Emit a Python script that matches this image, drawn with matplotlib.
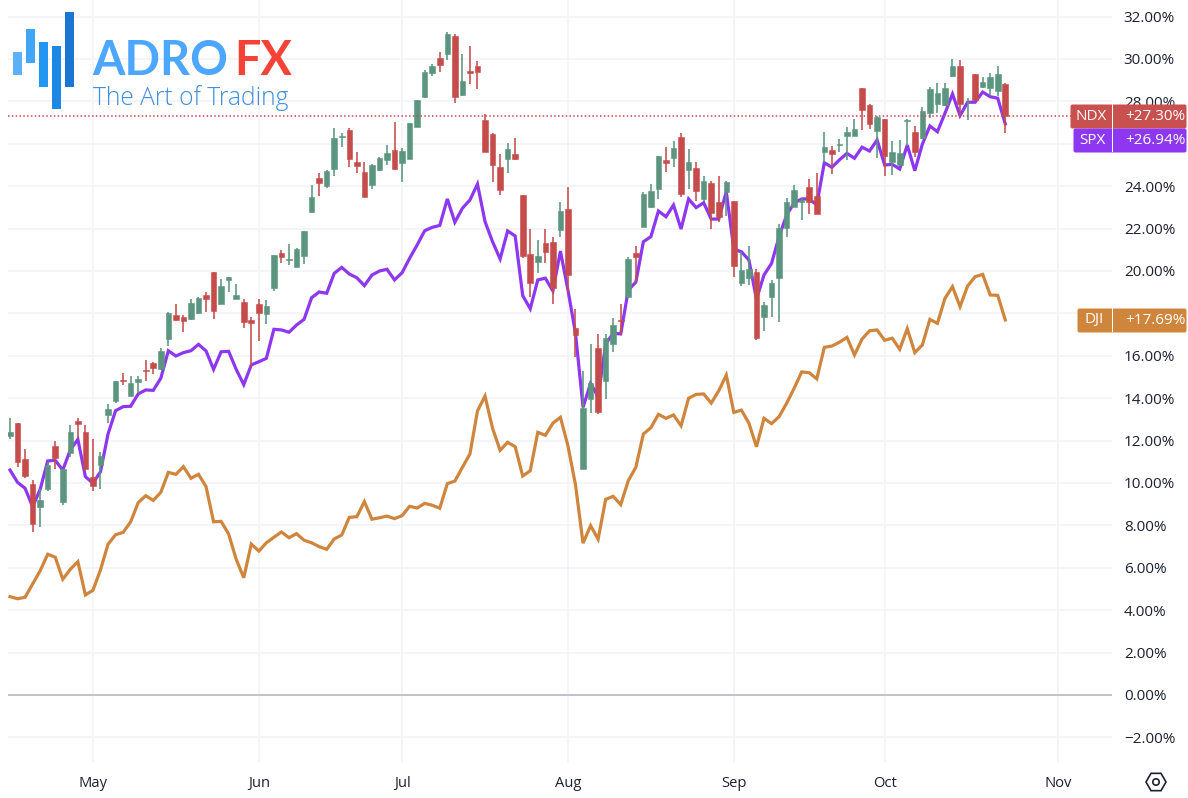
import numpy as np
import matplotlib
matplotlib.use("Agg")
import matplotlib.pyplot as plt
from matplotlib.patches import Rectangle, RegularPolygon, Circle, FancyBboxPatch

W, H = 1188, 798

ndx_open = [12.22,12.84,11.13,9.95,8.87,9.72,11.75,9.12,11.43,12.94,12.41,10.28,10.85,13.21,13.85,14.86,14.10,14.78,15.33,15.66,
15.36,16.79,17.92,17.84,17.74,18.00,18.87,19.95,18.44,19.58,18.67,18.52,17.69,18.43,17.97,19.18,20.86,20.52,20.19,20.72,
22.78,24.37,24.02,24.81,26.32,26.65,25.13,24.67,24.06,24.76,25.24,25.71,25.11,25.27,26.81,28.22,29.33,30.06,30.25,31.08,
28.29,29.42,29.67,27.12,26.46,24.89,25.30,25.52,23.58,20.80,20.44,21.32,21.37,21.95,22.92,17.33,10.66,13.95,16.35,14.83,
16.57,17.69,18.77,20.84,22.09,23.00,23.85,25.24,25.34,26.31,24.76,24.86,23.38,24.14,23.24,23.73,23.30,19.45,19.66,19.94,
17.84,18.77,19.68,22.04,23.03,23.26,23.96,23.55,25.60,25.69,25.93,26.37,26.37,28.62,27.83,26.62,27.17,25.13,25.00,27.09,
26.57,26.26,27.47,27.88,27.83,29.20,29.67,27.96,29.29,28.68,28.65,28.49,28.82]
ndx_close = [12.41,10.98,10.34,8.08,9.20,10.85,11.18,10.66,12.41,12.80,10.65,9.86,11.29,13.49,14.80,14.80,14.73,14.92,15.28,15.42,
16.24,18.00,17.69,17.66,18.50,18.73,18.68,18.13,19.31,19.70,18.88,17.61,17.56,18.00,18.35,20.75,20.65,20.57,21.04,21.89,
23.49,24.17,24.73,26.27,26.37,25.30,24.97,23.51,25.00,25.33,25.55,24.81,25.67,26.97,28.07,29.39,29.67,29.72,31.17,28.21,
28.98,29.33,29.40,25.60,25.01,23.84,25.74,25.28,20.71,19.45,20.71,20.91,19.18,22.83,19.83,16.98,13.52,14.70,13.36,16.83,
17.45,17.64,20.57,20.66,23.63,23.77,25.42,25.11,25.79,23.63,25.13,23.79,24.25,22.75,22.56,24.20,20.25,20.05,20.09,16.85,
18.40,19.43,22.04,23.24,23.81,23.35,23.24,22.69,25.86,25.53,25.98,26.54,26.68,27.59,26.92,27.26,25.44,25.60,25.55,27.12,
25.60,27.55,28.57,28.41,28.62,29.67,27.88,27.99,28.07,28.93,29.17,29.31,27.30]
ndx_high = [13.07,12.84,11.60,10.14,9.72,11.00,11.98,10.66,12.74,13.07,12.74,12.09,11.48,13.73,14.81,15.17,15.05,15.05,15.80,15.69,
16.35,18.05,18.44,17.92,18.67,18.79,19.00,19.95,19.62,19.70,19.39,18.68,17.82,18.68,18.63,20.75,20.99,21.27,21.07,21.89,
24.06,24.61,24.76,26.73,26.52,26.76,25.60,25.13,25.03,25.36,25.94,27.01,25.79,26.97,28.07,29.48,29.76,30.32,31.26,31.18,
30.24,30.61,29.91,27.39,26.52,25.52,26.02,26.27,23.58,21.98,21.46,21.97,21.59,23.24,23.96,18.21,15.28,16.56,17.03,17.01,
17.78,18.43,20.65,21.19,23.73,24.10,25.42,25.86,26.13,26.50,25.75,25.14,24.48,24.25,24.48,24.25,23.30,20.91,21.18,20.09,
18.55,19.58,22.20,23.43,24.06,23.44,24.33,24.61,26.57,25.90,26.21,26.78,27.16,28.62,27.86,27.31,27.17,26.13,26.18,27.15,
26.84,27.75,28.69,28.88,28.88,29.99,29.95,28.15,29.29,29.17,29.33,29.67,28.88]
ndx_low = [12.08,10.77,10.25,7.70,7.94,9.64,10.66,8.98,11.24,12.12,10.61,9.64,9.72,12.84,13.79,14.61,14.10,14.26,14.83,15.13,
15.33,16.46,17.66,17.14,17.69,17.96,18.08,17.74,18.44,19.00,18.67,17.31,15.46,16.68,17.50,19.07,20.39,20.28,20.19,20.33,
22.75,23.54,23.93,24.50,25.86,24.92,24.64,23.51,23.87,24.72,25.00,24.78,24.21,25.27,26.81,28.15,29.20,29.39,29.95,27.94,
28.25,28.82,28.59,25.60,24.21,23.58,24.61,25.25,20.59,18.79,19.92,20.39,18.44,21.62,18.95,15.93,10.66,13.32,13.25,13.98,
16.18,16.98,18.77,19.42,22.06,22.96,23.38,24.69,24.92,23.51,23.87,23.30,23.30,21.97,22.33,22.59,19.73,19.31,19.34,16.76,
17.18,17.84,17.58,21.62,23.00,22.41,22.69,22.67,25.08,24.58,25.63,25.24,26.37,26.65,26.68,25.33,24.48,24.53,25.00,25.90,
25.36,26.21,27.20,27.47,27.80,29.17,27.31,27.12,28.07,28.62,28.30,28.25,26.50]

spx = [10.61,10.03,9.75,8.88,9.70,11.04,11.07,10.61,11.56,12.06,10.30,9.99,10.53,12.31,13.41,13.60,13.62,14.20,14.39,14.37,
14.94,16.24,15.99,16.15,16.24,16.54,16.23,15.36,16.19,16.21,15.36,14.64,15.57,15.72,15.88,17.25,17.22,17.11,17.45,17.72,
18.74,19.01,18.95,19.89,20.17,19.86,19.68,19.31,19.81,20.00,20.08,19.58,19.92,20.60,21.23,21.90,22.06,22.15,23.40,22.30,
22.96,23.35,24.10,22.33,21.38,20.57,21.89,21.65,18.84,18.22,19.58,19.66,19.06,20.94,19.10,17.06,13.57,14.70,14.07,16.56,
17.06,17.03,19.10,19.47,21.38,21.62,22.83,22.56,23.11,21.98,23.40,22.99,23.22,22.45,22.45,23.74,21.02,20.91,20.52,18.67,
19.81,20.36,21.62,22.64,23.21,23.40,23.40,23.11,25.11,24.89,25.24,25.55,25.32,25.84,25.66,26.18,25.00,25.03,24.81,25.94,
24.73,25.98,26.84,26.57,27.44,28.35,27.33,27.96,27.96,28.44,28.22,28.15,26.94]

dji = [4.64,4.54,4.61,5.24,5.86,6.64,6.50,5.46,5.93,6.29,4.72,4.94,5.90,7.11,7.56,7.67,8.17,9.07,9.40,9.18,
9.56,10.50,10.41,10.77,10.22,10.41,9.83,8.17,8.19,7.59,6.40,5.53,7.12,6.79,7.18,7.44,7.69,7.42,7.61,7.30,
7.18,7.00,6.87,7.36,7.55,8.38,8.41,9.12,8.29,8.36,8.44,8.32,8.46,8.90,8.82,9.04,8.95,8.81,9.97,10.09,
10.74,11.37,13.40,14.10,12.58,11.54,11.92,11.71,10.33,10.58,12.39,12.25,12.82,13.10,11.75,9.91,7.16,7.99,7.35,9.23,
9.37,8.98,10.11,10.74,12.31,12.61,13.24,13.05,13.21,12.70,14.00,14.18,14.20,13.77,14.35,15.09,13.33,13.44,12.82,11.71,
13.05,12.80,13.13,13.76,14.47,15.24,15.20,14.91,16.40,16.46,16.64,16.87,16.04,16.79,17.18,17.22,16.73,16.83,16.31,17.28,
16.15,16.51,17.72,17.53,18.71,19.26,18.32,19.29,19.73,19.84,18.87,18.85,17.69]

month_pos = [11, 33, 52, 74, 96, 116, 139]
month_labels = ["May", "Jun", "Jul", "Aug", "Sep", "Oct", "Nov"]
y_ticks = list(range(-2, 33, 2))
tags = [("NDX", "+27.30%", 1070, 116, "#c8504f"),
        ("SPX", "+26.94%", 1073, 140, "#8e37f0"),
        ("DJI", "+17.69%", 1077, 320, "#d0853d")]

UP, DOWN = "#5b9580", "#c64c4c"
GRID = "#f1f3f7"
TXT = "#1c2030"
FONT = "Open Sans"

fig = plt.figure(figsize=(W/100, H/100), dpi=100, facecolor="white")
PIX = matplotlib.transforms.Affine2D().scale(1, -1).translate(0, H)  # reference pixel coords

x0, x1, ytop, ybot = 8, 1112, 0, 762
ax = fig.add_axes([x0/W, 1-ybot/H, (x1-x0)/W, (ybot-ytop)/H])
SP = 7.54
ax.set_xlim((x0-10)/SP, (x1-10)/SP)
ax.set_ylim((695-ybot)/21.2, (695-ytop)/21.2)
for s in ax.spines.values():
    s.set_visible(False)
ax.set_xticks(month_pos, month_labels)
ax.set_yticks(y_ticks, [("\u2212" if v < 0 else "") + f"{abs(v):.2f}%" for v in y_ticks])
ax.yaxis.tick_right()
ax.tick_params(axis="both", length=0, labelcolor=TXT)
ax.tick_params(axis="y", pad=8.5, labelsize=11)
ax.tick_params(axis="x", pad=10, labelsize=10.6)
for t in ax.get_xticklabels() + ax.get_yticklabels():
    t.set_fontfamily(FONT)
ax.grid(True, color=GRID, lw=1.1, zorder=0)
ax.set_axisbelow(True)
ax.axhline(0, color="#b2b5be", lw=1.1, zorder=1)

xs = np.arange(len(ndx_open))
ax.plot(xs, dji, color="#d0853d", lw=2.3, zorder=3, solid_joinstyle="miter")
ax.plot(xs, spx, color="#8e37f0", lw=2.3, zorder=3, solid_joinstyle="miter")
o, c, h, l = map(np.array, (ndx_open, ndx_close, ndx_high, ndx_low))
cols = [UP if cc >= oo else DOWN for oo, cc in zip(o, c)]
ax.vlines(xs, l, h, colors=cols, lw=1.15, zorder=4)
ax.bar(xs, np.abs(c-o), bottom=np.minimum(o, c), width=0.74, color=cols,
       edgecolor=cols, lw=0.4, zorder=5)
ax.axhline(ndx_close[-1], color="#d0434f", lw=1.1, ls=(0, (1, 1.5)), zorder=6)

# price tags
for name, val, left, cy, col in tags:
    fig.add_artist(FancyBboxPatch((left+2, cy-10), 1186-left-3, 21, boxstyle="round,pad=1.5,rounding_size=2",
                                  fc=col, ec="none", transform=PIX, zorder=10))
    fig.add_artist(Rectangle((1112, cy-12), 1.3, 24, fc="white", ec="none", transform=PIX, zorder=11))
    fig.text(0, 0, name, color="white", fontsize=11, family=FONT, ha="center", va="center",
             transform=PIX + matplotlib.transforms.Affine2D().translate((left+1112)/2, -cy), zorder=12)
    fig.text(0, 0, val, color="white", fontsize=11, family=FONT, ha="center", va="center",
             transform=PIX + matplotlib.transforms.Affine2D().translate(1155, -cy), zorder=12)

# settings glyph
fig.add_artist(RegularPolygon((1156, 782), 6, radius=10, orientation=np.pi/6, fc="none", ec=TXT, lw=1.2, transform=PIX, zorder=12))
fig.add_artist(Circle((1156, 782), 3.2, fc="none", ec=TXT, lw=1.2, transform=PIX, zorder=12))

# logo
logo_bars = [(13, 51.7, 75, "#5cb1f8"), (26, 29, 63.3, "#42a5f5"), (39, 41.7, 86.7, "#2196f3"),
             (52, 46.3, 109, "#1e88e5"), (65, 12, 86.7, "#1976d2")]
for bx, by0, by1, bc in logo_bars:
    fig.add_artist(Rectangle((bx, by0), 8.7, by1-by0, fc=bc, ec="none", transform=PIX, zorder=12))
off = lambda a, b: PIX + matplotlib.transforms.Affine2D().translate(a, -b)
fig.text(0, 0, "ADRO", color="#4da6ff", fontsize=33.7, family="Lato", weight="bold", ha="left", va="baseline", transform=off(92, 75), zorder=12)
fig.text(0, 0, "FX", color="#f44336", fontsize=33.7, family="Lato", weight="bold", ha="left", va="baseline", transform=off(234, 75), zorder=12)
fig.text(0, 0, "The Art of Trading", color="#3f8fdc", fontsize=17.7, family="Open Sans", weight="light", ha="left", va="baseline", transform=off(93, 105), zorder=12)

fig.savefig("out.png", dpi=100)
